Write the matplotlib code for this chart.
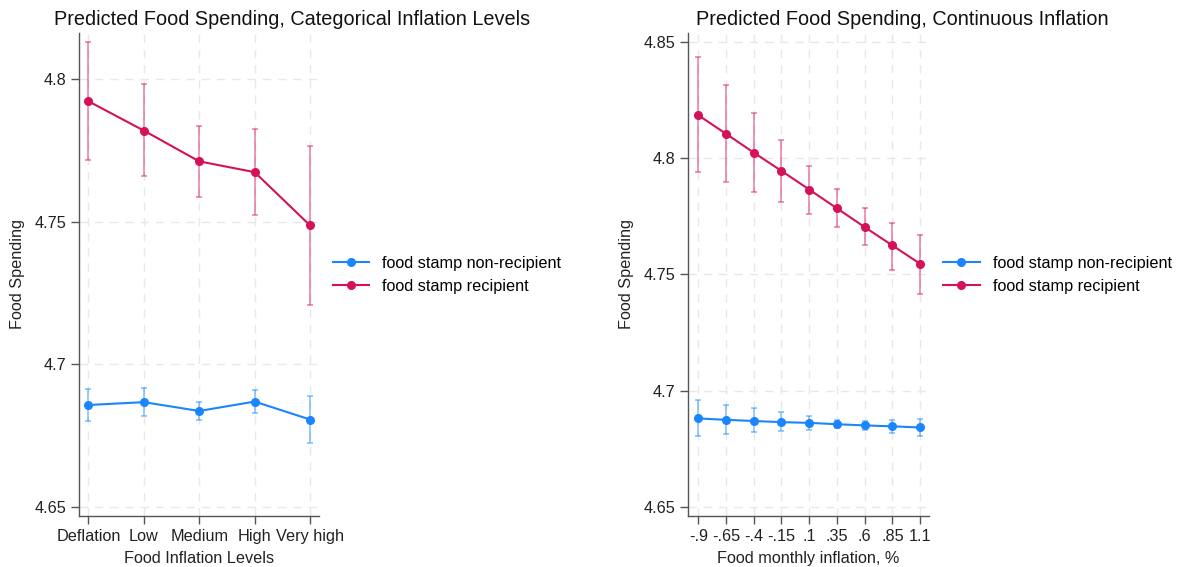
import numpy as np
import matplotlib
matplotlib.use("Agg")
import matplotlib.pyplot as plt

plt.rcParams['font.family'] = ['Liberation Sans', 'DejaVu Sans']

# left panel: categorical inflation levels
cat_labels = ["Deflation", "Low", "Medium", "High", "Very high"]
cat_nonrec = [4.6857, 4.6867, 4.6836, 4.6869, 4.6806]
cat_nonrec_lo = [4.6800, 4.6819, 4.6803, 4.6828, 4.6724]
cat_nonrec_hi = [4.6914, 4.6915, 4.6869, 4.6911, 4.6887]
cat_rec = [4.7923, 4.7820, 4.7712, 4.7674, 4.7487]
cat_rec_lo = [4.7717, 4.7660, 4.7588, 4.7525, 4.7209]
cat_rec_hi = [4.8132, 4.7982, 4.7837, 4.7825, 4.7767]

# right panel: continuous inflation
infl = [-0.9, -0.65, -0.4, -0.15, 0.1, 0.35, 0.6, 0.85, 1.1]
infl_labels = ["-.9", "-.65", "-.4", "-.15", ".1", ".35", ".6", ".85", "1.1"]
con_nonrec = [4.6880, 4.6874, 4.6869, 4.6864, 4.6861, 4.6855, 4.6850, 4.6846, 4.6841]
con_nonrec_lo = [4.6805, 4.6813, 4.6821, 4.6827, 4.6832, 4.6838, 4.6830, 4.6819, 4.6804]
con_nonrec_hi = [4.6959, 4.6939, 4.6923, 4.6907, 4.6889, 4.6875, 4.6871, 4.6872, 4.6877]
con_rec = [4.8186, 4.8106, 4.8025, 4.7946, 4.7866, 4.7785, 4.7704, 4.7625, 4.7546]
con_rec_lo = [4.7941, 4.7900, 4.7857, 4.7813, 4.7762, 4.7703, 4.7625, 4.7519, 4.7418]
con_rec_hi = [4.8435, 4.8315, 4.8195, 4.8081, 4.7969, 4.7869, 4.7787, 4.7723, 4.7672]

BLUE = "#1a85ff"
RED = "#d41159"
GRID = "#e8e8e8"
SPINE = "#555555"
FS = 11.7


def draw(ax, x, series, yticks, yticklabels):
    for y, lo, hi, col, lab in series:
        y = np.array(y)
        err = [y - np.array(lo), np.array(hi) - y]
        ax.errorbar(x, y, yerr=err, fmt="none", ecolor=col, alpha=0.55,
                    elinewidth=1.1, capsize=2.2, capthick=1.1, zorder=3)
        ax.plot(x, y, color=col, lw=1.5, marker="o", ms=5.5, label=lab, zorder=4)
    ax.set_yticks(yticks)
    ax.set_yticklabels(yticklabels)
    ax.grid(True, color=GRID, lw=1.0, ls=(0, (6, 5)))
    ax.set_axisbelow(True)
    for s in ["top", "right"]:
        ax.spines[s].set_visible(False)
    for s in ["left", "bottom"]:
        ax.spines[s].set_color(SPINE)
        ax.spines[s].set_linewidth(1.0)
    ax.tick_params(axis="both", colors=SPINE, labelcolor="#222222",
                   labelsize=FS, length=6, width=1.0, pad=3)
    ax.set_ylabel("Food Spending", fontsize=FS, color="#222222", labelpad=7)
    ax.legend(loc="center left", bbox_to_anchor=(1.058, 0.4989), frameon=False,
              fontsize=FS, handlelength=2.25, handletextpad=0.8,
              labelspacing=0.5, borderpad=0, borderaxespad=0)


fig = plt.figure(figsize=(11.8, 5.67), dpi=100)

ax1 = fig.add_axes([0.0669, 0.0892, 0.2034, 0.8534])
xc = np.arange(1, len(cat_labels) + 1)
draw(ax1, xc,
     [(cat_nonrec, cat_nonrec_lo, cat_nonrec_hi, BLUE, "food stamp non-recipient"),
      (cat_rec, cat_rec_lo, cat_rec_hi, RED, "food stamp recipient")],
     [4.65, 4.7, 4.75, 4.8], ["4.65", "4.7", "4.75", "4.8"])
ax1.set_xticks(xc)
ax1.set_xticklabels(cat_labels)
ax1.set_xlim(0.83, 5.16)
ax1.set_ylim(4.6466, 4.8164)
ax1.set_xlabel("Food Inflation Levels", fontsize=FS, color="#222222", labelpad=5)

ax2 = fig.add_axes([0.5833, 0.0892, 0.204, 0.8534])
draw(ax2, infl,
     [(con_nonrec, con_nonrec_lo, con_nonrec_hi, BLUE, "food stamp non-recipient"),
      (con_rec, con_rec_lo, con_rec_hi, RED, "food stamp recipient")],
     [4.65, 4.7, 4.75, 4.8, 4.85], ["4.65", "4.7", "4.75", "4.8", "4.85"])
ax2.set_xticks(infl)
ax2.set_xticklabels(infl_labels)
ax2.set_xlim(-0.99, 1.18)
ax2.set_ylim(4.6458, 4.8542)
ax2.set_xlabel("Food monthly inflation, %", fontsize=FS, color="#222222", labelpad=5)

fig.text(54 / 1180, 1 - 19.3 / 567, "Predicted Food Spending, Categorical Inflation Levels",
         fontsize=14.3, color="#111111", ha="left", va="center")
fig.text(696 / 1180, 1 - 19.3 / 567, "Predicted Food Spending, Continuous Inflation",
         fontsize=14.3, color="#111111", ha="left", va="center")

fig.savefig("out.png", dpi=100, facecolor="white")
